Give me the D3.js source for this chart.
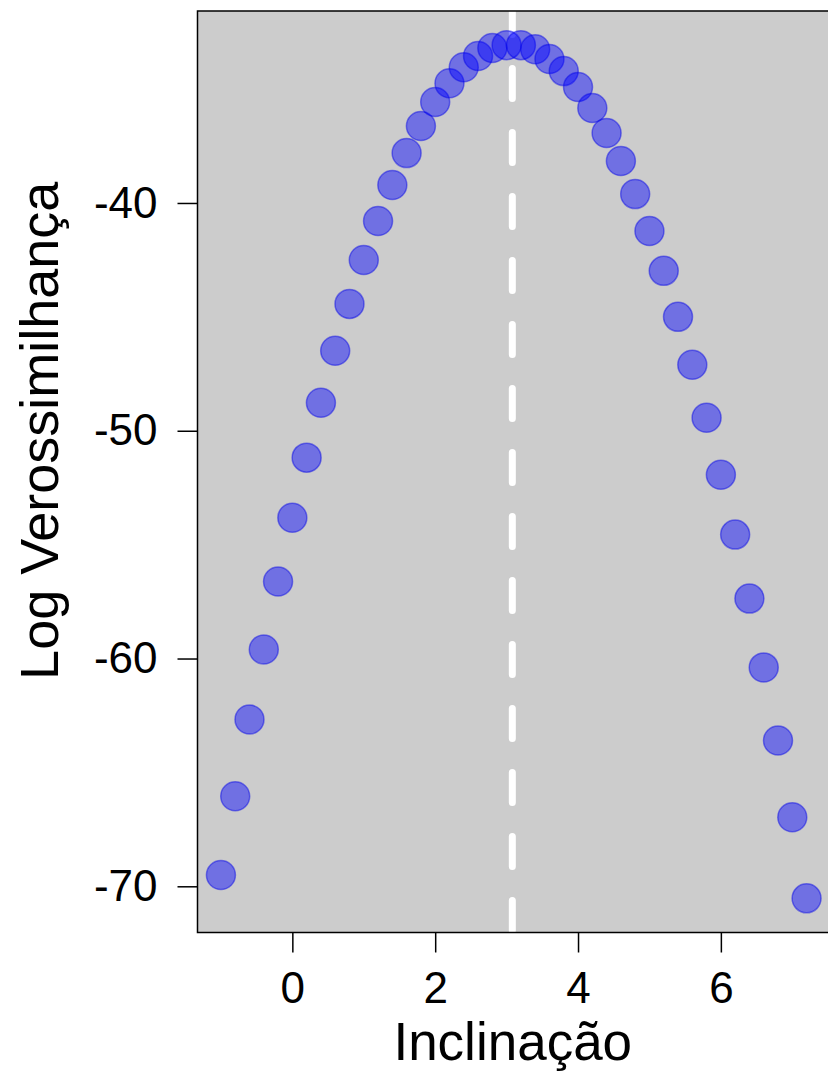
<!DOCTYPE html>
<html>
<head>
<meta charset="utf-8">
<script src="https://cdn.jsdelivr.net/npm/d3@7"></script>
<style>
html,body{margin:0;padding:0;background:#fff;}
svg{display:block;font-family:"Liberation Sans",Arial,sans-serif;}
</style>
</head>
<body>
<svg id="chart" width="828" height="1074"></svg>
<script>
const slopes = [-1.0,-0.8,-0.6,-0.4,-0.2,0.0,0.2,0.4,0.6,0.8,1.0,1.2,1.4,1.6,1.8,2.0,2.2,2.4,2.6,2.8,3.0,3.2,3.4,3.6,3.8,4.0,4.2,4.4,4.6,4.8,5.0,5.2,5.4,5.6,5.8,6.0,6.2,6.4,6.6,6.8,7.0,7.2];
const logLik = [-69.5,-66.05,-62.68,-59.6,-56.62,-53.82,-51.18,-48.77,-46.49,-44.43,-42.5,-40.79,-39.21,-37.81,-36.62,-35.57,-34.74,-34.04,-33.55,-33.2,-33.07,-33.07,-33.25,-33.68,-34.21,-34.91,-35.83,-36.93,-38.16,-39.61,-41.23,-42.98,-45.0,-47.1,-49.43,-51.93,-54.56,-57.37,-60.39,-63.6,-66.97,-70.53];
const bestSlope = [3.08];
const xTicks = [0,2,4,6];
const yTicks = [-70,-60,-50,-40];
const xLabel = "Inclinação";
const yLabel = "Log Verossimilhança";

(function(){
const svg = d3.select("#chart");
const pL = 197.5, pR = 830, pT = 11, pB = 932.5;

const xExt = d3.extent(slopes), xPad = (xExt[1]-xExt[0])*0.04;
const yExt = d3.extent(logLik), yPad = (yExt[1]-yExt[0])*0.04;
const x = d3.scaleLinear().domain([xExt[0]-xPad, xExt[1]+xPad]).range([pL, pR]);
const y = d3.scaleLinear().domain([yExt[0]-yPad, yExt[1]+yPad]).range([pB, pT]);

svg.append("defs").append("clipPath").attr("id","clip")
  .append("rect").attr("x",pL).attr("y",pT).attr("width",pR-pL).attr("height",pB-pT);

svg.append("rect").attr("x",pL).attr("y",pT).attr("width",pR-pL).attr("height",pB-pT)
  .attr("fill","#cccccc");

const g = svg.append("g").attr("clip-path","url(#clip)");

g.selectAll("line.best").data(bestSlope).enter().append("line")
  .attr("x1",d=>x(d)).attr("x2",d=>x(d)).attr("y1",pT).attr("y2",pB+40)
  .attr("stroke","#ffffff").attr("stroke-width",7).attr("stroke-linecap","round")
  .attr("stroke-dasharray","30 34").attr("stroke-dashoffset",6.5);

g.selectAll("circle").data(slopes).enter().append("circle")
  .attr("cx",d=>x(d)).attr("cy",(d,i)=>y(logLik[i])).attr("r",14.5)
  .attr("fill","rgba(0,0,255,0.45)").attr("stroke","rgba(0,0,230,0.45)").attr("stroke-width",1.5);

svg.append("rect").attr("x",pL).attr("y",pT).attr("width",pR-pL).attr("height",pB-pT)
  .attr("fill","none").attr("stroke","#000").attr("stroke-width",1.5);

const xAxis = svg.append("g").attr("transform",`translate(0,${pB})`)
  .call(d3.axisBottom(x).tickValues(xTicks).tickSize(20).tickPadding(19).tickFormat(d3.format("d")));
xAxis.select(".domain").remove();
xAxis.selectAll("line").attr("stroke","#000").attr("stroke-width",1.5);
xAxis.selectAll("text").attr("font-size",44).attr("fill","#000").attr("font-family","Liberation Sans, Arial, sans-serif");

const yAxis = svg.append("g").attr("transform",`translate(${pL},0)`)
  .call(d3.axisLeft(y).tickValues(yTicks).tickSize(20).tickPadding(20).tickFormat(d=>String(d)));
yAxis.select(".domain").remove();
yAxis.selectAll("line").attr("stroke","#000").attr("stroke-width",1.5);
yAxis.selectAll("text").attr("font-size",44).attr("fill","#000").attr("font-family","Liberation Sans, Arial, sans-serif");

svg.append("text").attr("x",(pL+828)/2).attr("y",1060).attr("text-anchor","middle")
  .attr("font-size",53).attr("fill","#000").text(xLabel);

svg.append("text").attr("transform",`translate(58,${(pT+pB)/2-41}) rotate(-90)`).attr("text-anchor","middle")
  .attr("font-size",54).attr("fill","#000").text(yLabel);
})();
</script>
</body>
</html>
